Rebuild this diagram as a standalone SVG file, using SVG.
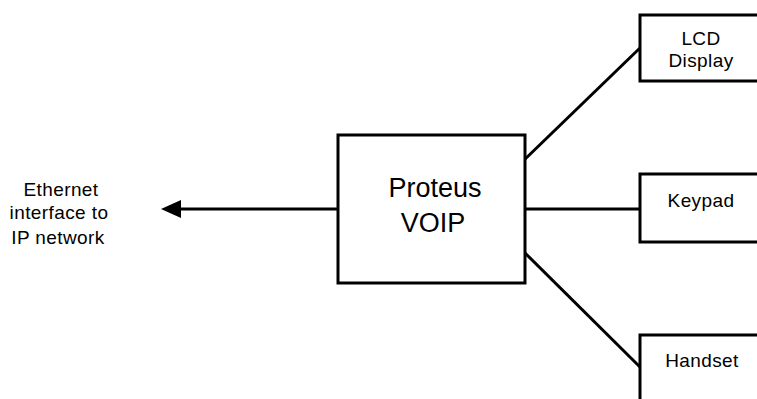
<svg xmlns="http://www.w3.org/2000/svg" width="757" height="399" viewBox="0 0 757 399">
<style>
.box{fill:#fff;stroke:#000;stroke-width:3}
.ln{stroke:#000;stroke-width:3;fill:none}
text{font-family:"Liberation Sans",Arial,sans-serif;fill:#000;text-anchor:middle}
.s{font-size:19px;letter-spacing:0.4px}
.b{font-size:27px}
</style>
<rect width="757" height="399" fill="#fff"/>
<g id="connectors">
<line class="ln" x1="338" y1="209" x2="178" y2="209"/>
<polygon points="161,209 181,200 181,218" fill="#000"/>
<line class="ln" x1="521" y1="163" x2="641" y2="47"/>
<line class="ln" x1="525" y1="209" x2="640" y2="209"/>
<line class="ln" x1="521" y1="249" x2="641" y2="368"/>
</g>
<g id="ethernet">
<text class="s" x="61" y="196">Ethernet</text>
<text class="s" x="59" y="219">interface to</text>
<text class="s" x="58" y="244">IP network</text>
</g>
<g id="proteus">
<rect class="box" x="338" y="135" width="187" height="148"/>
<text class="b" x="435" y="197">Proteus</text>
<text class="b" x="433" y="232">VOIP</text>
</g>
<g id="lcd">
<rect class="box" x="640" y="15" width="130" height="66"/>
<text class="s" x="701" y="45">LCD</text>
<text class="s" x="701" y="67">Display</text>
</g>
<g id="keypad">
<rect class="box" x="640" y="174" width="130" height="68"/>
<text class="s" x="701" y="207">Keypad</text>
</g>
<g id="handset">
<rect class="box" x="640" y="335" width="130" height="80"/>
<text class="s" x="702" y="367">Handset</text>
</g>
</svg>
